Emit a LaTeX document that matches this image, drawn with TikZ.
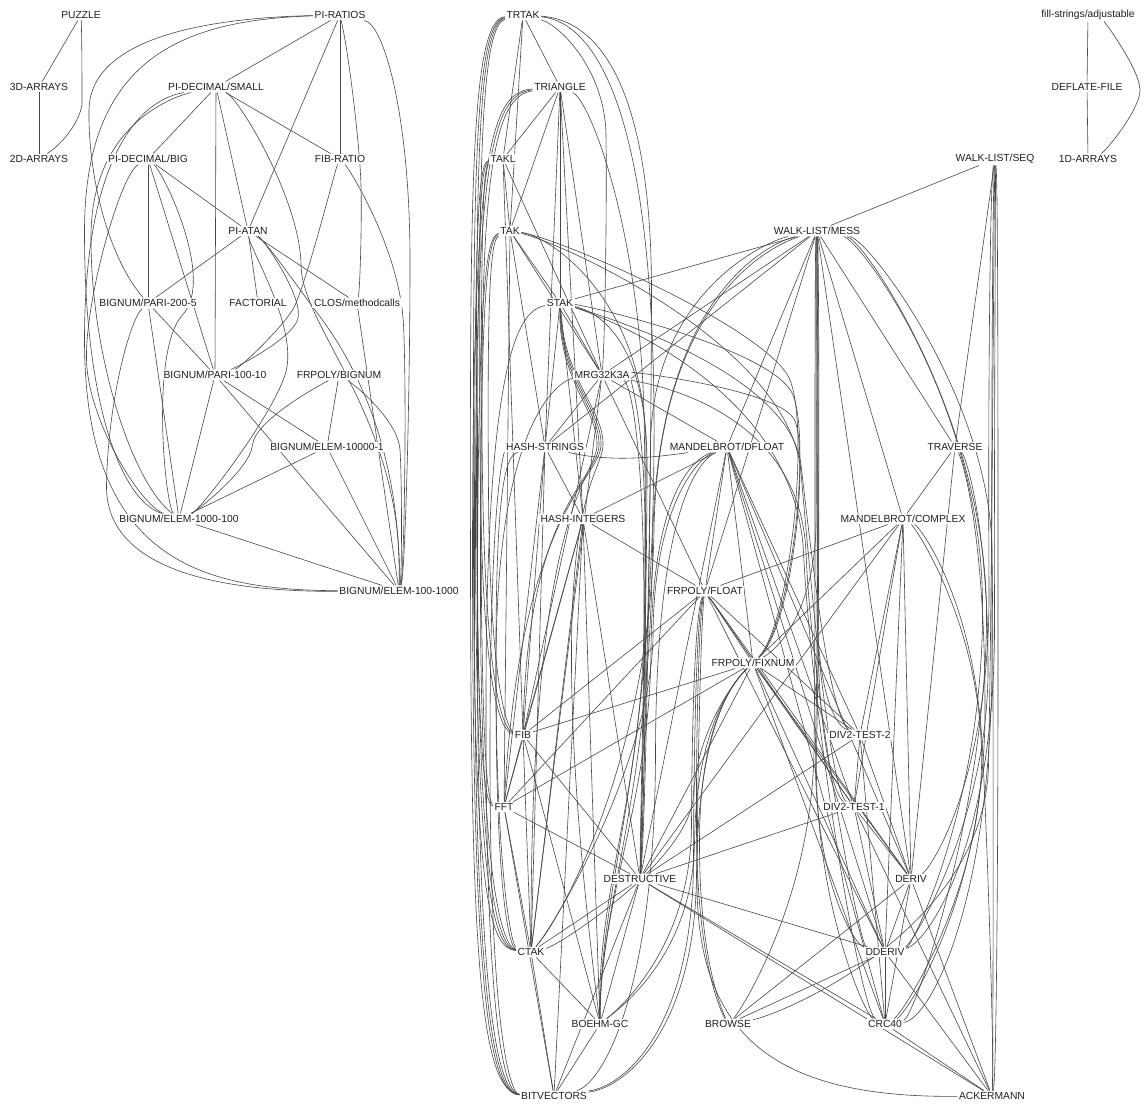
\documentclass[tikz,border=0pt]{standalone}
\usepackage{fontspec}
\setmainfont{Liberation Sans}
\usetikzlibrary{calc,backgrounds}
\newcommand\cv[6]{\draw[e] (#1) .. controls (#3) and (#4) .. ($(#4)!0.5!(#5)$) .. controls (#5) and (#6) .. (#2);}
\begin{document}
\begin{tikzpicture}[x=1pt,y=-1pt,
  n/.style={font=\fontsize{10.3}{12}\selectfont, inner sep=1.6pt, fill=white, text=black!88},
  e/.style={draw=black!72, line width=0.6pt}]
\useasboundingbox (0,0) rectangle (1145,1107);
% ---------- left cluster
\node[n] (pz) at (81,15) {PUZZLE};
\node[n] (pr) at (340,15) {PI-RATIOS};
\node[n] (d3) at (39,87) {3D-ARRAYS};
\node[n] (pds) at (216,87) {PI-DECIMAL/SMALL};
\node[n] (d2) at (39,159) {2D-ARRAYS};
\node[n] (pdb) at (148,159) {PI-DECIMAL/BIG};
\node[n] (fr) at (340,159) {FIB-RATIO};
\node[n] (pa) at (248,231) {PI-ATAN};
\node[n] (bp2) at (148,303) {BIGNUM/PARI-200-5};
\node[n] (fac) at (258,303) {FACTORIAL};
\node[n] (clos) at (357,303) {CLOS/methodcalls};
\node[n] (bp1) at (215,375) {BIGNUM/PARI-100-10};
\node[n] (fb) at (339,375) {FRPOLY/BIGNUM};
\node[n] (be1) at (327,447) {BIGNUM/ELEM-10000-1};
\node[n] (be2) at (179,519) {BIGNUM/ELEM-1000-100};
\node[n] (be3) at (399,591) {BIGNUM/ELEM-100-1000};
% ---------- right cluster
\node[n] (trtak) at (523,15) {TRTAK};
\node[n] (tri) at (560,87) {TRIANGLE};
\node[n] (takl) at (503,159) {TAKL};
\node[n] (tak) at (510,231) {TAK};
\node[n] (stak) at (560,303) {STAK};
\node[n] (mrg) at (602,375) {MRG32K3A};
\node[n] (hs) at (545,447) {HASH-STRINGS};
\node[n] (mdf) at (727,447) {MANDELBROT/DFLOAT};
\node[n] (hi) at (583,519) {HASH-INTEGERS};
\node[n] (wlm) at (817,231) {WALK-LIST/MESS};
\node[n] (wls) at (995,159) {WALK-LIST/SEQ};
\node[n] (trav) at (955,447) {TRAVERSE};
\node[n] (mc) at (903,519) {MANDELBROT/COMPLEX};
\node[n] (ff) at (705,591) {FRPOLY/FLOAT};
\node[n] (fx) at (753,663) {FRPOLY/FIXNUM};
\node[n] (fib) at (523,735) {FIB};
\node[n] (d22) at (860,735) {DIV2-TEST-2};
\node[n] (fft) at (504,807) {FFT};
\node[n] (d21) at (854,807) {DIV2-TEST-1};
\node[n] (des) at (640,879) {DESTRUCTIVE};
\node[n] (der) at (911,879) {DERIV};
\node[n] (ctak) at (531,952) {CTAK};
\node[n] (dder) at (885,952) {DDERIV};
\node[n] (boehm) at (600,1024) {BOEHM-GC};
\node[n] (brow) at (728,1024) {BROWSE};
\node[n] (crc) at (885,1024) {CRC40};
\node[n] (bit) at (554,1096) {BITVECTORS};
\node[n] (ack) at (992,1096) {ACKERMANN};
% ---------- top right
\node[n] (fsa) at (1088,15) {fill-strings/adjustable};
\node[n] (defl) at (1087,87) {DEFLATE-FILE};
\node[n] (d1) at (1088,159) {1D-ARRAYS};

\begin{pgfonlayer}{background}
\fill[white] (0,0) rectangle (1145,1107);
% ---- left cluster edges
\draw[e] (pz) -- (d3);
\cv{pz}{d2}{82,40}{82,90}{82,115}{68,140}
\draw[e] (d3) -- (d2);
\foreach \a/\b in {pr/pds, pr/pa, pr/fr, pds/pdb, pds/fr, pds/pa, pds/bp1, pdb/pa, pdb/bp2, pdb/bp1,
  pa/bp2, pa/fac, pa/clos, bp2/bp1, bp2/be2, bp1/be2, bp1/be1, bp1/be3, fb/be1, be1/be2, be1/be3, be2/be3, clos/be3}
  \draw[e] (\a) -- (\b);
\cv{pr}{clos}{350,60}{360,150}{362,220}{360,290}
\cv{pr}{be3}{385,25}{410,120}{410,400}{405,575}
\cv{pr}{bp2}{200,18}{90,40}{88,180}{110,260}
\cv{pr}{be2}{180,20}{85,60}{84,400}{120,500}
\cv{pds}{be3}{170,95}{86,110}{83,560}{200,590}
\cv{pds}{be2}{180,95}{92,120}{90,350}{130,480}
\cv{pdb}{be2}{120,175}{85,300}{88,420}{140,505}
\cv{bp2}{be3}{130,320}{108,400}{105,570}{220,592}
\cv{pdb}{be2}{165,175}{215,280}{150,350}{165,505}
\cv{pds}{be3}{240,100}{300,200}{302,330}{405,420}
\cv{pa}{be3}{265,240}{300,290}{330,330}{402,420}
\cv{pa}{bp1}{265,240}{305,300}{290,340}{235,368}
\cv{fr}{bp1}{335,170}{305,290}{280,330}{240,368}
\cv{fr}{be3}{350,170}{400,250}{407,400}{404,575}
\cv{fb}{be2}{320,385}{255,420}{250,470}{195,512}
\cv{pa}{be2}{250,250}{300,330}{270,420}{200,510}
\cv{fb}{be3}{355,385}{398,420}{402,480}{402,575}
% ---- right cluster straight edges
\foreach \a/\b in {trtak/tri, trtak/takl, trtak/tak, tri/takl, tri/tak, tri/stak, tri/mrg, tri/hs, tri/hi,
  takl/tak, takl/mrg, takl/fib, tak/stak, tak/hs, tak/mrg, tak/fft, stak/mrg, stak/hs, stak/hi, stak/wlm,
  mrg/hs, mrg/mdf, mrg/ff, mrg/wlm, mrg/fib, mrg/ctak, hs/hi, hs/fib, hs/fft, hs/ctak, hs/wlm,
  hi/mdf, hi/ff, hi/fib, hi/boehm, hi/bit, hi/ctak, hi/fft, hi/des,
  mdf/ff, mdf/fx, mdf/d22, mdf/d21, mdf/der, mdf/dder, mdf/crc, mdf/wlm, mdf/des,
  wlm/wls, wlm/ff, wlm/mc, wlm/der, wlm/trav, wls/trav, trav/mc, trav/der,
  mc/ff, mc/fx, mc/d22, mc/d21, mc/der, mc/dder, mc/des,
  ff/fx, ff/fib, ff/fft, ff/d22, ff/d21, ff/der, ff/dder,
  fx/fib, fx/fft, fx/d22, fx/d21, fx/der, fx/dder, fx/crc, fx/des,
  d22/d21, d22/der, d22/des, d22/crc, d21/der, d21/dder, d21/des, d21/ack,
  des/ctak, des/boehm, des/bit, des/dder, des/crc, des/ack,
  der/dder, der/crc, der/ack, der/brow, dder/crc, dder/brow, dder/ack, crc/ack,
  fib/fft, fib/ctak, fib/boehm, fib/des, fft/ctak, fft/des, fft/bit, ctak/boehm, ctak/bit, boehm/bit}
  \draw[e] (\a) -- (\b);
\draw[e] (mdf) .. controls (650,458) and (610,462) .. (hs);
% far-left bundle
\cv{trtak}{bit}{470,20}{470,200}{471,950}{480,1092}
\cv{trtak}{ctak}{473,22}{473,200}{474,900}{490,948}
\cv{trtak}{fft}{476,24}{476,200}{477,760}{485,805}
\cv{trtak}{fib}{479,26}{479,200}{481,690}{500,732}
\cv{tri}{bit}{490,92}{472,150}{473,1000}{490,1094}
\cv{tri}{ctak}{492,94}{475,160}{476,900}{495,948}
\cv{tri}{fib}{495,96}{481,170}{483,680}{502,730}
\cv{takl}{bit}{478,162}{474,220}{475,1010}{495,1094}
\cv{takl}{ctak}{480,164}{477,220}{478,900}{500,948}
\cv{takl}{fft}{483,166}{481,220}{481,760}{488,803}
\cv{tak}{bit}{485,236}{477,300}{478,1020}{500,1094}
\cv{tak}{ctak}{487,238}{480,300}{481,900}{505,948}
\cv{tak}{fib}{490,240}{487,300}{490,690}{508,730}
\cv{stak}{bit}{520,310}{487,350}{485,1030}{505,1094}
\cv{hs}{bit}{505,452}{490,480}{490,1030}{510,1094}
\cv{mrg}{ctak}{560,380}{497,420}{495,900}{510,948}
\cv{hs}{ctak}{505,455}{495,490}{497,880}{512,946}
% STAK S-bundle
\cv{stak}{fib}{560,380}{600,410}{598,480}{527,505}
\cv{stak}{fft}{562,380}{602,410}{600,480}{520,510}
\cv{stak}{ctak}{558,380}{598,410}{596,480}{530,500}
\cv{stak}{boehm}{564,380}{604,410}{602,480}{535,505}
% middle bundle
\cv{trtak}{des}{600,20}{652,90}{651,500}{646,830}
\cv{trtak}{boehm}{595,22}{656,110}{652,780}{600,880}
\cv{trtak}{mrg}{560,25}{605,70}{607,200}{605,340}
\cv{tri}{des}{590,100}{640,230}{648,600}{644,830}
\cv{tak}{des}{550,236}{646,300}{646,600}{642,830}
\cv{stak}{des}{590,310}{647,330}{647,600}{641,830}
\cv{mrg}{des}{630,380}{645,420}{645,650}{640,830}
\cv{mrg}{boehm}{630,382}{644,440}{644,790}{596,890}
\cv{wlm}{des}{770,240}{652,290}{649,600}{643,830}
\cv{wlm}{boehm}{770,243}{655,295}{650,800}{600,900}
\cv{wlm}{ctak}{770,246}{658,300}{650,760}{560,920}
\cv{mdf}{boehm}{690,460}{652,500}{650,800}{600,900}
\cv{mdf}{ctak}{695,460}{654,510}{652,760}{555,925}
\cv{mdf}{bit}{700,460}{656,505}{655,1000}{600,1085}
% FRPOLY bundle
\cv{ff}{bit}{698,610}{694,700}{693,1020}{630,1085}
\cv{ff}{brow}{700,610}{696,700}{697,960}{720,1010}
\cv{ff}{boehm}{696,610}{692,700}{691,950}{615,1012}
\cv{ff}{ack}{702,610}{698,720}{696,1040}{780,1098}
\cv{fx}{bit}{735,680}{698,720}{695,1030}{625,1088}
\cv{fx}{brow}{735,680}{700,720}{699,960}{722,1010}
\cv{fx}{boehm}{735,680}{696,725}{693,960}{612,1014}
\cv{fx}{ctak}{735,680}{697,730}{690,860}{560,945}
% WALK-LIST/MESS vertical bundle
\cv{wlm}{fx}{815,250}{817,450}{815,600}{785,645}
\cv{wlm}{d22}{816,250}{818,500}{816,690}{835,725}
\cv{wlm}{d21}{817,250}{819,500}{817,740}{835,797}
\cv{wlm}{dder}{818,250}{819,600}{812,880}{855,945}
\cv{wlm}{crc}{819,250}{820,600}{813,900}{865,1015}
\cv{wlm}{brow}{814,250}{816,600}{812,900}{740,1012}
% convergence from the left
\cv{tak}{fx}{560,238}{770,330}{810,430}{790,625}
\cv{stak}{fx}{590,306}{775,350}{811,440}{792,625}
\cv{mrg}{fx}{635,372}{780,390}{809,450}{794,625}
\cv{tak}{d21}{560,242}{790,345}{812,600}{830,790}
\cv{stak}{d22}{590,312}{790,370}{812,560}{830,720}
\cv{stak}{crc}{595,314}{795,385}{812,720}{860,1010}
\cv{mrg}{dder}{640,382}{800,405}{812,700}{860,945}
% right bundle
\cv{wls}{ack}{998,180}{998,400}{998,900}{996,1080}
\cv{wls}{crc}{993,180}{991,400}{993,900}{930,1020}
\cv{wls}{dder}{996,180}{994,400}{995,850}{925,945}
\cv{wls}{der}{990,180}{988,400}{990,780}{930,870}
\cv{wlm}{ack}{870,240}{990,400}{994,700}{993,1080}
\cv{wlm}{crc}{865,240}{985,420}{988,800}{915,1018}
\cv{wlm}{dder}{860,240}{980,400}{985,800}{912,947}
\cv{trav}{dder}{965,455}{988,520}{988,820}{912,945}
\cv{trav}{crc}{960,455}{985,520}{985,900}{905,1015}
\cv{mc}{crc}{915,527}{978,620}{985,880}{905,1012}
\cv{mc}{ack}{920,527}{975,600}{990,900}{994,1080}
\cv{brow}{wls}{780,1015}{985,930}{992,600}{994,190}
% top right
\draw[e] (fsa) -- (defl);
\draw[e] (defl) -- (d1);
\cv{fsa}{d1}{1105,22}{1140,70}{1140,110}{1105,152}
\end{pgfonlayer}
\end{tikzpicture}
\end{document}
